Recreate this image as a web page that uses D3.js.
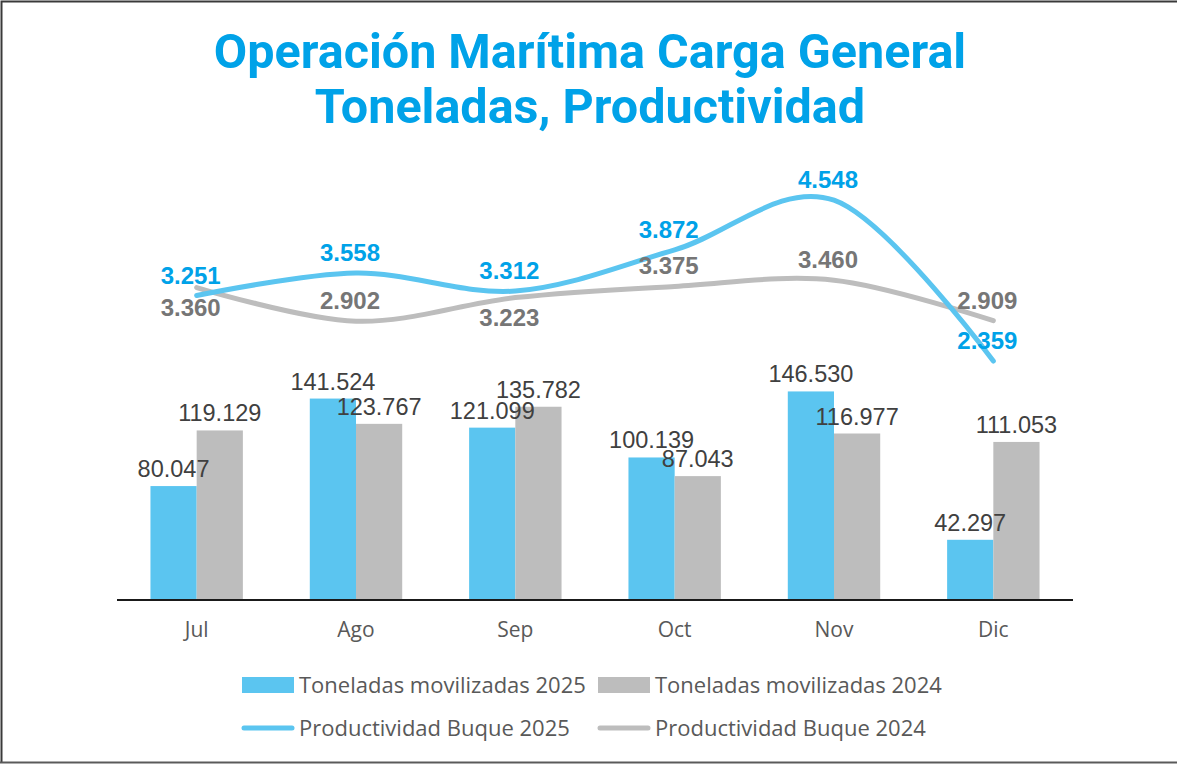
<!DOCTYPE html>
<html>
<head>
<meta charset="utf-8">
<script src="https://cdn.jsdelivr.net/npm/d3@7"></script>
<style>
  html, body { margin: 0; padding: 0; background: #fff; }
  svg { display: block; }
</style>
</head>
<body>
<svg id="chart" width="1177" height="764"></svg>
<script>
// ---- Data ----
const months = ["Jul", "Ago", "Sep", "Oct", "Nov", "Dic"];
const toneladas2025 = [80.047, 141.524, 121.099, 100.139, 146.530, 42.297];
const toneladas2024 = [119.129, 123.767, 135.782, 87.043, 116.977, 111.053];
const productividad2025 = [3.251, 3.558, 3.312, 3.872, 4.548, 2.359];
const productividad2024 = [3.360, 2.902, 3.223, 3.375, 3.460, 2.909];
const titleLines = ["Operación Marítima Carga General", "Toneladas, Productividad"];
const legendLabels = ["Toneladas movilizadas 2025", "Toneladas movilizadas 2024",
                      "Productividad Buque 2025", "Productividad Buque 2024"];

// ---- Styles ----
const BLUE = "#5BC5F0", GRAY = "#BDBDBD";
const BLUE_TXT = "#00A2E8", GRAY_TXT = "#767676", DARK = "#404040", AXIS_TXT = "#595959";
const fmt = v => v.toFixed(3);

const svg = d3.select("#chart");

// border (left, top, bottom)
svg.append("path").attr("d", "M1.5,763 L1.5,1.5 L1177,1.5").attr("fill", "none")
   .attr("stroke", "#3a3a3a").attr("stroke-width", 2);
svg.append("line").attr("x1", 0).attr("x2", 1177).attr("y1", 762.5).attr("y2", 762.5)
   .attr("stroke", "#5a5a5a").attr("stroke-width", 2);

// title
svg.append("g").selectAll("text").data(titleLines).join("text")
  .attr("x", 590).attr("y", (d, i) => 68 + i * 55)
  .attr("text-anchor", "middle")
  .attr("font-family", "Roboto, 'Noto Sans', sans-serif")
  .attr("font-weight", 700).attr("font-size", 48.5)
  .attr("fill", BLUE_TXT)
  .text(d => d);

// scales
const x = d3.scaleBand().domain(months).range([117, 1073]).paddingInner(0.42).paddingOuter(0.21);
const xs = d3.scaleBand().domain(["2025", "2024"]).range([0, x.bandwidth()]);
const y1 = d3.scaleLinear().domain([0, 300]).range([600, 173]);
const y2 = d3.scaleLinear().domain([-1, 5]).range([608, 167]);
const cx = m => x(m) + x.bandwidth() / 2;

// bars
const barSeries = [
  { key: "2025", values: toneladas2025, color: BLUE },
  { key: "2024", values: toneladas2024, color: GRAY }
];
const gBars = svg.append("g");
barSeries.forEach(s => {
  gBars.selectAll(null).data(months).join("rect")
    .attr("x", m => x(m) + xs(s.key))
    .attr("width", xs.bandwidth())
    .attr("y", (m, i) => y1(s.values[i]))
    .attr("height", (m, i) => y1(0) - y1(s.values[i]))
    .attr("fill", s.color);
});

// x axis
const axis = svg.append("g").attr("transform", "translate(0,600)")
  .call(d3.axisBottom(x).tickSize(0).tickPadding(0));
axis.select(".domain").attr("stroke", "#1a1a1a").attr("stroke-width", 2)
  .attr("d", "M117,0H1073");
axis.selectAll("text")
  .attr("dy", 0).attr("y", 37)
  .attr("font-family", "'Open Sans', 'Noto Sans', sans-serif")
  .attr("font-size", 21).attr("fill", AXIS_TXT);

// bar labels
barSeries.forEach(s => {
  gBars.selectAll(null).data(months).join("text")
    .attr("x", m => x(m) + xs(s.key) + xs.bandwidth() / 2)
    .attr("y", (m, i) => y1(s.values[i]) - 9)
    .attr("text-anchor", "middle")
    .attr("font-family", "'Liberation Sans', Arial, sans-serif")
    .attr("font-size", 23.5).attr("fill", DARK)
    .text((m, i) => fmt(s.values[i]));
});

// lines
const lineGen = d3.line().x(d => cx(d.m)).y(d => y2(d.v)).curve(d3.curveCatmullRom.alpha(0));
const lineSeries = [
  { values: productividad2024, color: GRAY, txt: GRAY_TXT, below: new Set(["Jul", "Sep"]) },
  { values: productividad2025, color: BLUE, txt: BLUE_TXT, below: new Set() }
];
const gLines = svg.append("g");
lineSeries.forEach(s => {
  const pts = months.map((m, i) => ({ m, v: s.values[i] }));
  gLines.append("path").attr("d", lineGen(pts))
    .attr("fill", "none").attr("stroke", s.color).attr("stroke-width", 5)
    .attr("stroke-linecap", "round");
});
lineSeries.forEach(s => {
  const pts = months.map((m, i) => ({ m, v: s.values[i] }));
  gLines.selectAll(null).data(pts).join("text")
    .attr("x", d => cx(d.m) - 6)
    .attr("y", d => s.below.has(d.m) ? y2(d.v) + 28 : y2(d.v) - 12)
    .attr("text-anchor", "middle")
    .attr("font-family", "'Liberation Sans', Arial, sans-serif")
    .attr("font-weight", 700).attr("font-size", 24).attr("fill", s.txt)
    .text(d => fmt(d.v));
});

// legend
const legendItems = [
  { label: legendLabels[0], color: BLUE, type: "rect", x: 242, y: 685 },
  { label: legendLabels[1], color: GRAY, type: "rect", x: 598, y: 685 },
  { label: legendLabels[2], color: BLUE, type: "line", x: 242, y: 728 },
  { label: legendLabels[3], color: GRAY, type: "line", x: 598, y: 728 }
];
const gLeg = svg.append("g");
legendItems.forEach(it => {
  if (it.type === "rect") {
    gLeg.append("rect").attr("x", it.x).attr("y", it.y - 8).attr("width", 52).attr("height", 16)
      .attr("fill", it.color);
  } else {
    gLeg.append("line").attr("x1", it.x + 2).attr("x2", it.x + 50).attr("y1", it.y).attr("y2", it.y)
      .attr("stroke", it.color).attr("stroke-width", 5).attr("stroke-linecap", "round");
  }
  gLeg.append("text").attr("x", it.x + 57).attr("y", it.y + 8)
    .attr("font-family", "'Open Sans', 'Noto Sans', sans-serif")
    .attr("font-size", 22).attr("fill", AXIS_TXT)
    .text(it.label);
});
</script>
</body>
</html>
